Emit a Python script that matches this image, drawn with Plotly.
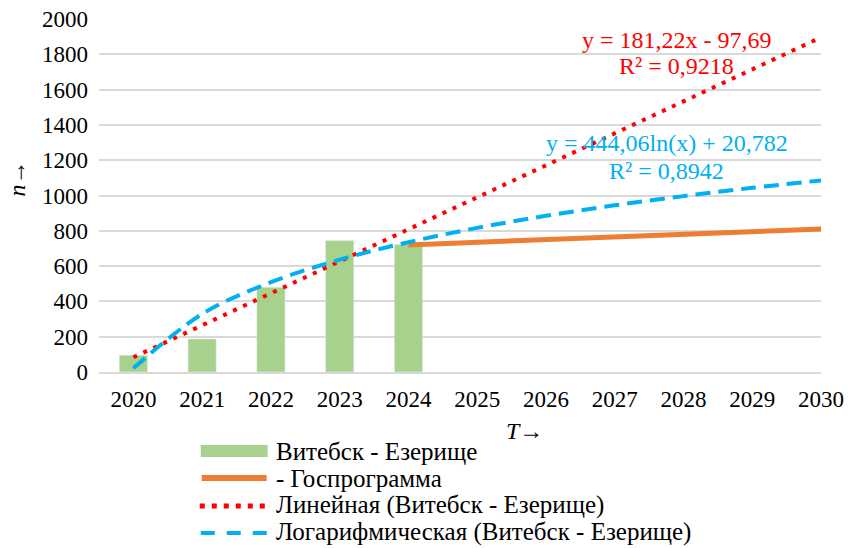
import numpy as np
import plotly.graph_objects as go

# Years on the category axis
years = [str(y) for y in range(2020, 2031)]

# Observed values (Витебск - Езерище), 2020-2024
obs_years = ["2020", "2021", "2022", "2023", "2024"]
obs_values = [95, 187, 480, 745, 723]

# Госпрограмма, 2024-2030
gos_years = ["2024", "2025", "2026", "2027", "2028", "2029", "2030"]
gos_values = [720, 735, 750, 765, 780, 795, 810]

# Trendline coefficients (x = period index 1..11)
lin_coef = [181.22, -97.69]
log_coef = [444.06, 20.782]

y_ticks = list(range(0, 2001, 200))

FONT = "Liberation Serif"
GREEN = "#A9D18E"
ORANGE = "#ED7D31"
RED = "#FF0000"
BLUE = "#00B0F0"

idx = np.arange(1, len(years) + 1)
lin_vals = lin_coef[0] * idx + lin_coef[1]
log_vals = log_coef[0] * np.log(idx) + log_coef[1]

fig = go.Figure()
fig.add_trace(go.Bar(x=obs_years, y=obs_values, marker_color=GREEN,
                     name="Витебск - Езерище"))
fig.add_trace(go.Scatter(x=gos_years, y=gos_values, mode="lines",
                         line=dict(color=ORANGE, width=5),
                         name="- Госпрограмма"))
fig.add_trace(go.Scatter(x=years, y=lin_vals, mode="lines",
                         line=dict(color=RED, width=4, dash="4px,7px"),
                         name="Линейная (Витебск - Езерище)"))
fig.add_trace(go.Scatter(x=years, y=log_vals, mode="lines",
                         line=dict(color=BLUE, width=4, dash="15px,8px",
                                   shape="spline", smoothing=1.0),
                         name="Логарифмическая (Витебск - Езерище)"))

# Plot-area pixel box, used to place the hand-drawn legend and titles
L, R_, T, B = 99, 844, 19, 372
W, H = R_ - L, B - T
def px(x):
    return (x - L) / W
def py(y):
    return (B - y) / H

annotations = []
# Trendline equations
eqs = [
    ("y = 181,22x - 97,69", 695, 40, RED),
    ("R² = 0,9218", 695, 66, RED),
    ("y = 444,06ln(x) + 20,782", 685, 143, BLUE),
    ("R² = 0,8942", 685, 171, BLUE),
]
for text, xx, yy, col in eqs:
    annotations.append(dict(text=text, x=px(xx), y=py(yy), xref="paper", yref="paper",
                            showarrow=False, xanchor="center", yanchor="middle",
                            font=dict(family=FONT, size=24, color=col)))

# Axis titles
annotations.append(dict(text="<i>T</i>→", x=px(538), y=py(431), xref="paper", yref="paper",
                        xanchor="center", yanchor="middle", showarrow=False,
                        font=dict(family=FONT, size=24, color="#000")))
annotations.append(dict(text="<i>n</i>→", x=px(14), y=py(179), xref="paper", yref="paper",
                        xanchor="center", yanchor="middle", textangle=-90, showarrow=False,
                        font=dict(family=FONT, size=24, color="#000")))

legend_items = [
    ("Витебск - Езерище", 451),
    ("- Госпрограмма", 478),
    ("Линейная (Витебск - Езерище)", 505),
    ("Логарифмическая (Витебск - Езерище)", 532),
]
shapes = []
shapes.append(dict(type="rect", xref="paper", yref="paper",
                   x0=px(204), x1=px(273), y0=py(457), y1=py(445),
                   fillcolor=GREEN, line=dict(width=0)))
shapes.append(dict(type="line", xref="paper", yref="paper",
                   x0=px(205), x1=px(272), y0=py(478), y1=py(478),
                   line=dict(color=ORANGE, width=6)))
shapes.append(dict(type="line", xref="paper", yref="paper",
                   x0=px(203), x1=px(273), y0=py(506), y1=py(506),
                   line=dict(color=RED, width=5, dash="5px,7px")))
shapes.append(dict(type="line", xref="paper", yref="paper",
                   x0=px(204), x1=px(273), y0=py(533), y1=py(533),
                   line=dict(color=BLUE, width=4, dash="14px,12px")))
for text, yy in legend_items:
    annotations.append(dict(text=text, x=px(280), y=py(yy), xref="paper", yref="paper",
                            showarrow=False, xanchor="left", yanchor="middle",
                            font=dict(family=FONT, size=25, color="#000")))

fig.update_layout(
    width=848, height=548,
    margin=dict(l=L, r=848 - R_, t=T, b=548 - B),
    paper_bgcolor="white", plot_bgcolor="white",
    showlegend=False,
    bargap=0.59,
    font=dict(family=FONT, size=23, color="#000"),
    annotations=annotations,
    shapes=shapes,
)
fig.update_xaxes(type="category", categoryorder="array", categoryarray=years,
                 tickfont=dict(family=FONT, size=23, color="#000"),
                 showgrid=False, showline=True, linecolor="#D9D9D9", linewidth=1.5,
                 ticks="", ticklabelstandoff=6)
fig.update_yaxes(range=[0, 2000], tickvals=y_ticks,
                 tickfont=dict(family=FONT, size=23, color="#000"),
                 showgrid=True, gridcolor="#D9D9D9", gridwidth=1.5,
                 zeroline=False, showline=False, ticks="", ticklabelstandoff=10)

fig.write_html("out.html")
